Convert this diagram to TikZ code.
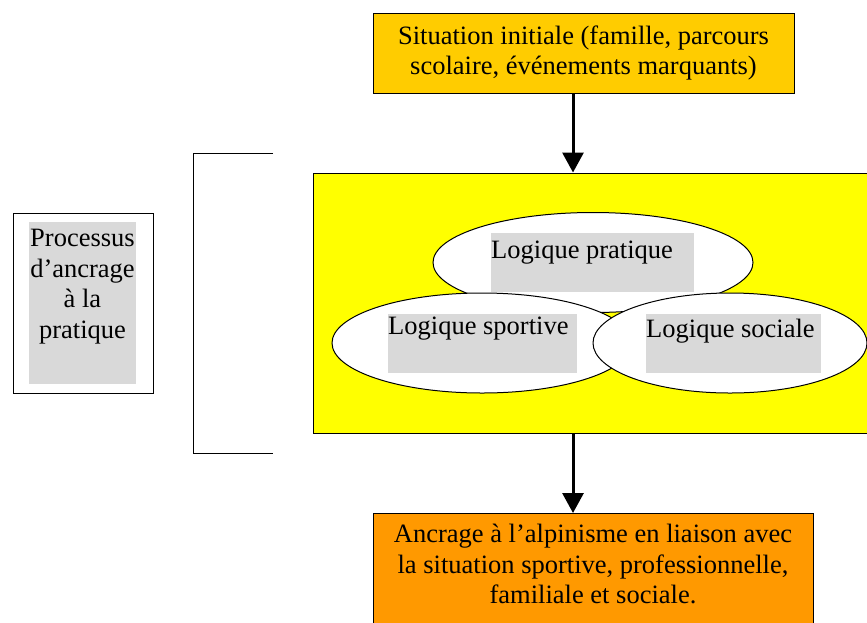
\documentclass[tikz,border=0pt]{standalone}
\usepackage{fontspec}
\setmainfont{Liberation Serif}
\usetikzlibrary{arrows.meta, shapes.geometric}

\definecolor{ocre}{HTML}{FFCC00}
\definecolor{jaune}{HTML}{FFFF00}
\definecolor{orangeboite}{HTML}{FF9900}
\definecolor{grisclair}{HTML}{D9D9D9}

\begin{document}
\begin{tikzpicture}[x=1pt, y=-1pt, font=\fontsize{26.5}{30.5}\selectfont,
	boite/.style={draw=black, line width=1pt, inner sep=0pt},
	ovale/.style={ellipse, draw=black, line width=1pt, fill=white, inner sep=0pt, minimum height=100pt},
	gris/.style={fill=grisclair, inner sep=0pt, anchor=north west, minimum height=59pt},
	texte/.style={inner sep=0pt, align=center},
	fleche/.style={line width=3pt, -{Triangle[length=20pt, width=21pt]}}]
\useasboundingbox (0,0) rectangle (867,622);
\clip (0,0) rectangle (867,622);
\node[boite, fill=ocre, minimum width=421pt, minimum height=80pt, align=center] (situation) at (583.5,53) {Situation initiale (famille, parcours\\scolaire, événements marquants)};
\node[boite, fill=jaune, minimum width=570pt, minimum height=260pt] (logiques) at (598,303) {};
\node[ovale, minimum width=320pt] (pratique) at (593,262.5) {};
\node[gris, minimum width=203pt] (gpratique) at (491,233) {};
\node[texte, anchor=base west] (tpratique) at ([yshift=-25pt]gpratique.north west) {Logique pratique};
\node[ovale, minimum width=300pt] (sportive) at (482,343) {};
\node[gris, minimum width=189pt] (gsportive) at (388,314) {};
\node[texte, anchor=base west] (tsportive) at ([yshift=-20pt]gsportive.north west) {Logique sportive};
\node[ovale, minimum width=274pt] (sociale) at (730,343) {};
\node[gris, minimum width=175pt] (gsociale) at (646,314) {};
\node[texte, anchor=base west] (tsociale) at ([yshift=-23pt]gsociale.north west) {Logique sociale};
\node[boite, fill=white, minimum width=140pt, minimum height=180pt, anchor=north west] (processus) at (13,213) {};
\node[gris, minimum width=107pt, minimum height=162pt] (gprocessus) at (29,222) {};
\node[texte, anchor=north] (tprocessus) at (82.5,229) {Processus\\d’ancrage\\à la\\pratique};
\draw[line width=1pt] (273,153) -- (193,153) -- (193,453) -- (273,453);
\node[boite, fill=orangeboite, minimum width=440pt, minimum height=140pt, anchor=north] (ancrage) at (593,513) {};
\node[texte, anchor=north] (tancrage) at (593,524) {Ancrage à l’alpinisme en liaison avec\\la situation sportive, professionnelle,\\familiale et sociale.};
\coordinate (axe) at (573,0);
\draw[fleche] (situation.south -| axe) -- (logiques.north -| axe);
\draw[fleche] (logiques.south -| axe) -- (ancrage.north -| axe);
\end{tikzpicture}
\end{document}
